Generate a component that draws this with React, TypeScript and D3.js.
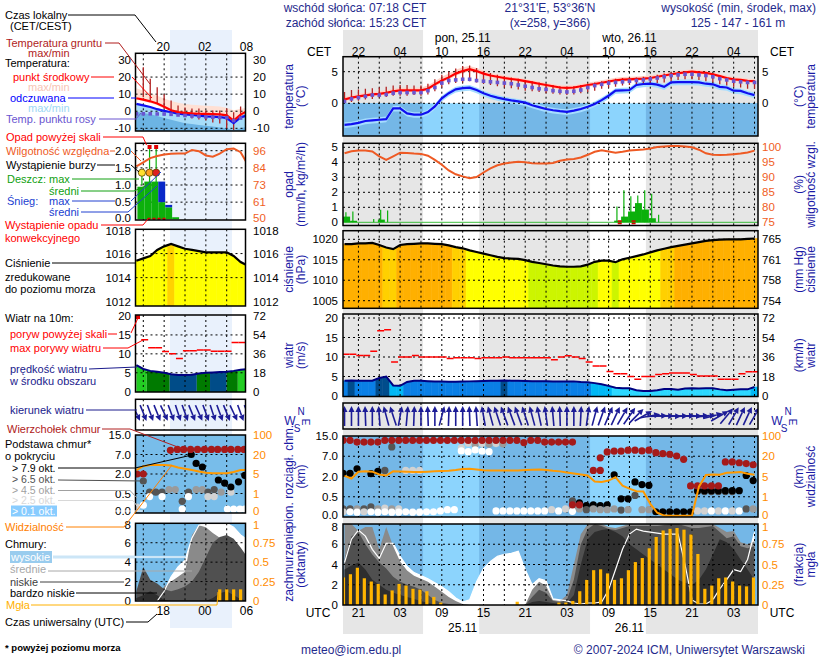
import React from 'react';
import * as d3 from 'd3';

const FONT = '"Liberation Sans", Arial, Helvetica, sans-serif';

// ===== time axis (hours after 24.11 18 UTC) =====
const HOURS = d3.range(1, 61);
const SUN = [12.3, 20.38, 36.33, 44.37];
const GRID_H = d3.range(3, 61, 3);
const TICK_H = [3, 9, 15, 21, 27, 33, 39, 45, 51, 57];
const UTC_LABELS = ['21', '03', '09', '15', '21', '03', '09', '15', '21', '03'];
const CET_LABELS = ['22', '04', '10', '16', '22', '04', '10', '16', '22', '04'];
const DAY_H = [18, 42];
const DAY_CET = ['pon, 25.11', 'wto, 26.11'];
const DAY_UTC = ['25.11', '26.11'];

// ===== main series (hourly) =====
const tempMid = [0.6,0.9,1.1,1.25,1.4,1.5,1.65,1.9,2.05,2.05,2.05,2.05,2.3,3.0,3.6,4.1,4.7,5.1,5.4,5.1,4.7,4.4,4.2,4.0,3.85,3.7,3.5,3.3,3.1,2.9,2.7,2.5,2.45,2.5,2.7,2.9,3.05,3.25,3.45,3.65,3.75,3.8,3.85,3.9,4.0,4.2,4.4,4.6,4.75,4.9,5.0,4.9,4.8,4.6,4.3,4.0,3.8,3.7,3.55,3.5];
const tempMax = [1.0,1.3,1.5,1.65,1.8,1.9,2.05,2.3,2.45,2.45,2.45,2.5,2.8,3.5,4.2,4.7,5.3,5.7,5.9,5.6,5.2,4.8,4.6,4.4,4.2,4.05,3.85,3.65,3.45,3.25,3.05,2.85,2.8,2.85,3.05,3.3,3.45,3.65,3.85,4.05,4.15,4.2,4.25,4.3,4.4,4.6,4.8,5.0,5.1,5.25,5.35,5.25,5.15,4.95,4.65,4.35,4.15,4.05,3.9,3.85];
const tempMin = [0.3,0.6,0.8,0.95,1.1,1.2,1.35,1.6,1.75,1.75,1.75,1.75,2.0,2.65,3.25,3.75,4.35,4.75,5.05,4.8,4.4,4.1,3.9,3.7,3.55,3.4,3.2,3.0,2.8,2.6,2.4,2.2,2.15,2.2,2.4,2.6,2.75,2.95,3.15,3.35,3.45,3.5,3.55,3.6,3.7,3.9,4.1,4.3,4.45,4.6,4.7,4.6,4.5,4.3,4.0,3.7,3.5,3.4,3.25,3.2];
const feelMid = [-3.4,-3.3,-3.1,-2.8,-2.7,-2.6,-2.5,-0.8,-0.8,-1.6,-1.8,-1.8,-1.4,-0.5,0.8,1.6,2.2,2.4,2.47,2.1,1.6,1.2,0.9,0.65,0.45,0.3,0.1,-0.3,-0.6,-0.9,-1.1,-1.25,-1.35,-1.15,-0.9,-0.55,-0.1,0.5,1.2,2.0,2.06,2.1,2.9,3.05,3.1,2.95,2.6,3.3,3.35,3.35,3.35,3.3,3.1,3.0,2.6,2.5,2.0,1.96,1.6,1.3];
const feelMax = [-3.0,-2.9,-2.7,-2.4,-2.3,-2.2,-2.1,-0.4,-0.4,-1.2,-1.4,-1.4,-1.0,-0.1,1.2,2.0,2.6,2.8,2.9,2.5,2.0,1.6,1.3,1.05,0.85,0.7,0.5,0.1,-0.2,-0.5,-0.7,-0.85,-0.95,-0.75,-0.5,-0.15,0.3,0.9,1.6,2.4,2.45,2.5,3.3,3.45,3.5,3.35,3.0,3.7,3.75,3.75,3.75,3.7,3.5,3.4,3.0,2.9,2.4,2.35,2.0,1.7];
const feelMin = [-3.9,-3.8,-3.6,-3.3,-3.2,-3.1,-3.0,-1.3,-1.3,-2.1,-2.3,-2.3,-1.9,-1.0,0.3,1.1,1.7,1.9,2.0,1.6,1.1,0.7,0.4,0.15,-0.05,-0.2,-0.4,-0.8,-1.1,-1.4,-1.6,-1.75,-1.85,-1.65,-1.4,-1.05,-0.6,0.0,0.7,1.5,1.55,1.6,2.4,2.55,2.6,2.45,2.1,2.8,2.85,2.85,2.85,2.8,2.6,2.5,2.1,2.0,1.5,1.45,1.1,0.8];
const dewPoint = [0.3,0.7,0.9,1.1,1.3,1.3,1.4,1.6,1.7,1.7,1.7,1.7,2.0,2.5,3.2,3.6,3.7,3.8,3.8,3.6,3.5,3.4,3.3,3.2,3.1,2.9,2.7,2.5,2.3,2.2,2.0,1.9,1.8,1.9,2.1,2.5,2.8,3.0,3.2,3.3,3.4,3.5,3.6,3.7,3.85,4.0,4.2,4.4,4.5,4.6,4.6,4.5,4.4,4.2,3.9,3.7,3.5,3.4,3.3,3.3];
const groundMax = [1.8,2.1,2.2,2.3,2.4,2.5,2.6,2.8,2.9,2.9,2.8,2.8,3.1,3.8,4.5,5.0,5.5,5.9,6.0,5.6,5.1,4.8,4.5,4.3,4.1,3.9,3.7,3.5,3.3,3.1,2.9,2.7,2.6,2.7,2.9,3.1,3.3,3.5,3.7,3.9,4.0,4.1,4.1,4.2,4.3,4.5,4.7,4.9,5.0,5.1,5.1,5.0,4.9,4.7,4.4,4.1,3.9,3.8,3.7,3.6];
const groundMin = [0.1,0.2,0.4,0.6,0.7,0.9,1.0,1.2,1.2,1.2,1.3,1.2,1.4,1.9,2.5,3.0,3.2,3.3,3.5,3.3,3.1,2.9,2.7,2.5,2.4,2.2,2.0,1.9,1.8,1.6,1.5,1.4,1.3,1.4,1.6,1.8,2.0,2.3,2.5,2.6,2.8,2.9,3.0,3.0,3.1,3.2,3.3,3.5,3.7,3.8,3.8,3.7,3.5,3.3,3.0,2.8,2.6,2.5,2.3,2.3];
const relHum = [98.0,98.7,98.9,98.9,98.6,97.0,95.8,97.0,98.2,98.1,97.9,97.8,97.2,95.8,94.2,92.3,91.0,90.3,89.7,90.1,91.6,93.0,94.0,94.6,94.9,95.2,95.0,94.7,94.6,94.6,94.8,95.5,95.9,96.1,96.6,97.5,98.5,99.0,98.6,98.2,98.5,98.9,99.1,99.3,99.6,100.1,100.3,100.4,100.4,100.3,100.0,99.2,98.0,97.5,97.4,97.5,97.7,97.9,98.3,98.9];
const rainMean = [0.38,0.1,0,0,0,0.18,0,0,0,0,0,0,0,0,0,0,0,0,0,0,0,0,0,0,0,0,0,0,0,0,0,0,0,0,0,0,0,0,0,0.11,0.38,0.72,1.28,0.85,0.27,0,0,0,0,0,0,0,0,0,0,0,0,0,0,0];
const rainMax = [0.67,0.72,0,0,0.22,0.83,0.78,0,0,0,0,0,0,0,0,0,0,0,0,0,0,0,0,0,0,0,0,0,0,0,0,0,0,0,0,0,0,0,0,1.05,2.13,1.73,1.79,2.13,1.9,0.5,0,0,0,0,0,0,0,0,0,0,0,0,0,0];
const convective = [40.6, 42.6];
const pressure = [1018.8,1018.8,1019.0,1019.0,1019.1,1018.6,1018.0,1017.6,1018.6,1018.8,1018.9,1019.0,1019.0,1018.9,1018.8,1018.5,1018.1,1017.8,1017.3,1016.9,1016.5,1016.1,1015.7,1015.4,1015.3,1015.2,1014.9,1014.5,1014.2,1013.9,1013.6,1013.4,1013.3,1013.3,1013.4,1013.8,1014.5,1014.8,1014.8,1014.4,1015.1,1015.5,1015.9,1016.3,1016.8,1017.3,1017.7,1018.1,1018.4,1018.7,1019.0,1019.3,1019.6,1019.8,1019.9,1020.0,1020.0,1020.0,1020.1,1020.2];
const windSpeed = [3.9,4.0,3.9,3.9,3.9,4.6,5.0,2.7,2.6,3.6,3.9,3.9,3.8,3.7,3.7,3.65,3.65,3.7,3.75,3.8,3.85,3.9,3.9,4.0,3.9,3.9,3.85,3.8,3.8,3.8,3.75,3.75,3.75,3.75,3.6,3.5,3.3,3.0,2.6,2.1,2.0,2.0,1.5,1.3,1.3,1.5,1.8,1.8,1.6,1.9,2.0,1.9,2.0,2.0,1.7,1.5,1.6,1.7,1.7,2.3];
const gust = [10.7,10.7,10.4,10.4,11.5,16.7,17.0,8.7,10.0,10.0,10.4,10.0,10.0,10.0,10.0,9.6,9.8,9.8,9.8,9.6,9.8,9.8,9.8,10.0,9.8,9.8,9.8,9.8,9.8,9.8,9.3,10.0,10.3,10.0,9.6,8.7,7.7,7.7,6.3,5.7,5.7,5.0,4.3,5.0,5.0,5.5,5.7,5.9,5.9,5.9,5.5,5.1,5.1,5.1,4.3,4.3,4.3,5.7,6.2,6.2];
const windFrom = [180,180,180,178,180,176,165,162,190,185,182,180,178,180,195,182,180,180,178,176,170,165,162,160,160,160,162,165,168,172,175,178,180,180,183,188,195,200,203,205,210,215,225,240,260,268,270,272,270,268,270,268,265,255,240,220,210,205,205,210];
const visib = [5.5,4.6,8.5,8.8,8.6,6.5,5.75,8.8,8.7,8.5,8.3,8.3,8.5,8.8,9.0,9.3,9.8,10.5,10.75,10.2,9.6,9.5,9.5,9.5,9.5,9.5,9.8,10.0,10.25,9.8,9.2,8.8,8.0,7.2,6.5,5.8,4.0,3.9,4.2,4.86,3.2,2.6,2.1,2.05,0.65,0.21,0.07,0.06,0.06,0.06,0.07,3.0,6.2,6.4,6.3,7.75,8.0,8.25,7.0,6.25];
const cloudHigh = [4.2,6.5,7.4,6.8,5.5,4.6,6.1,6.1,4.8,3.8,3.2,2.9,2.6,2.2,1.8,1.3,0.7,0.3,0.5,2.3,3.6,4.3,4.8,5.0,5.1,5.3,3.5,2.0,2.6,2.4,0.6,0.5,0.4,0.2,0.1,0.2,0.2,0.3,1.5,3.5,5.5,7.0,7.5,7.3,7.2,7.1,7.0,7.0,7.0,4.0,0.5,0.1,0.1,0.5,1.6,2.5,3.5,3.3,4.5,7.2];
const cloudMid = [8,8,7.3,7.7,7.7,5.5,7.7,5.8,4.3,3.4,2.9,2.6,2.3,1.8,1.3,0.8,0.4,0.1,0,0,0,0,0,0,0,0,0,1.5,2.3,1.9,0.5,0.4,1.0,4.0,7.0,8,8,8,7.7,7.6,7.8,8,8,8,8,8,8,8,8,8,8,8,8,8,7.6,7.2,7.3,6.2,6.0,6.3];
const cloudLow = [4.5,6.8,7.2,6.0,5.0,4.2,3.6,2.8,2.3,2.0,1.8,1.5,1.0,0.5,0.2,0.1,0,0,0,0,0,0,0,0,0,0,0,0.8,1.5,1.2,0.4,0.3,0.5,2.5,6.0,7.5,8,7.8,7.5,7.4,7.6,7.8,7.8,7.8,7.8,7.8,7.9,8,8,7.8,7.6,7.6,7.7,7.8,7.2,6.6,6.8,5.8,5.6,5.8];
const cloudVeryLow = [3.5,3.9,4.2,3.5,2.5,2.0,1.5,1.2,1.0,0.8,0.6,0.4,0.2,0,0,0,0,0,0,0,0,0,0,0,0,0,0,0.3,0.4,0.3,0.2,0.1,0.2,1.0,4.0,6.5,7.2,7.4,7.5,7.2,6.8,6.0,5.5,5.0,4.5,4.0,3.5,3.0,2.5,2.2,2.0,2.5,3.5,5.0,6.5,6.2,5.5,4.5,3.5,2.5];
const fog = [0.34,0.38,0.46,0.33,0.29,0.26,0.13,0.18,0.26,0.24,0.20,0.19,0.17,0.10,0.03,0,0,0,0,0,0,0,0,0,0,0.04,0,0,0,0,0,0.03,0.03,0.05,0.17,0.31,0.43,0.44,0.39,0.31,0.33,0.43,0.53,0.58,0.70,0.84,0.92,0.94,0.95,0.93,0.87,0.63,0.20,0.24,0.33,0.34,0.29,0.24,0.23,0.34];
// cloud top [hour, km]
const cloudTop = [[1,13.3],[2,13.3],[3,12.6],[4,12.6],[5,12.6],[6,12.6],[7,13.3],[8,13.3],[9,13.3],[10,13.3],[11,13.3],[12,13.3],[13,13.3],[14,13.3],[15,13.3],[16,13.3],[17,13.3],[18,13.3],[19,13.3],[20,13.3],[21,13.3],[22,13.3],[23,13.3],[24,13.3],[25,13.3],[26,13.3],[27,12.4],[28,13.3],[29,13.3],[30,12.6],[31,12.6],[32,12.6],[33,12.6],[34,12.6],[34,0.3],[35,0.3],[37,3.5],[38,3.5],[38,6.6],[39,8.7],[40,9.0],[41,9.0],[42,9.4],[43,9.4],[44,9.1],[45,9.4],[46,8.4],[47,8.0],[48,7.8],[49,7.1],[50,6.25],[51,1.3],[52,1.3],[53,1.3],[54,1.3],[55,1.3],[56,5.6],[57,5.6],[58,5.4],[59,5.2],[60,4.9]];
// cloud base [hour, km, class] class: 0 >7.9, 1 >6.5, 2 >4.5, 3 >2.5, 4 >0.1 okt
const cloudBase = [[1,2.8,0],[1,0.2,1],[1,0.13,3],[2,2.8,0],[2,0.2,1],[2,0.13,4],[3,3.9,0],[3,0.2,2],[3,0.12,4],[4,0.2,1],[4,0.13,3],[5,2.7,0],[5,0.25,1],[5,0.13,4],[6,3.25,0],[6,0.2,2],[6,0.12,4],[7,3.5,1],[7,0.22,3],[7,0.13,4],[8,10.7,1],[8,0.2,2],[8,0.12,4],[9,0.2,3],[9,0.12,4],[10,3.5,3],[10,0.13,4],[11,3.5,3],[11,0.12,4],[12,3.5,3],[12,0.12,4],[13,0.13,4],[14,0.13,4],[15,0.15,4],[16,0.18,4],[17,0.18,4],[18,10.3,3],[18,9.1,4],[19,12.2,3],[19,8.8,4],[20,11.5,2],[20,9.5,4],[21,12.0,3],[21,9.0,4],[22,11.8,2],[22,8.8,4],[23,12.0,3],[24,11.9,2],[23,0.15,4],[24,0.15,4],[25,0.15,4],[26,0.15,4],[27,0.15,4],[28,0.15,4],[29,0.15,4],[30,0.15,4],[31,0.18,3],[32,0.15,4],[33,0.2,3],[34,0.4,1],[34,0.2,2],[34,0.14,4],[35,0.35,0],[35,0.2,2],[36,0.28,0],[36,0.18,1],[37,0.3,0],[37,0.2,2],[38,0.28,0],[38,0.18,2],[39,0.3,0],[39,0.18,2],[40,2.4,0],[40,0.2,2],[41,0.45,0],[41,0.17,1],[42,0.45,0],[42,0.18,2],[43,1.6,0],[43,0.6,1],[44,1.4,0],[44,0.18,2],[45,1.35,0],[45,0.18,2],[46,0.13,0],[47,0.13,0],[48,0.13,0],[49,0.13,0],[50,0.13,0],[51,0.13,0],[52,0.9,1],[52,0.95,0],[52,0.15,3],[53,0.88,1],[53,0.95,0],[53,0.15,3],[54,0.88,1],[54,0.95,0],[54,0.15,4],[55,0.88,1],[55,0.95,0],[55,0.15,3],[56,0.88,1],[56,0.95,0],[56,0.15,4],[57,0.88,1],[57,0.95,0],[57,0.15,3],[58,0.95,0],[58,0.15,4],[59,2.25,0],[59,0.2,1],[60,1.7,0],[60,0.2,2]];

// ===== legend sample (left mini chart), hours of day UTC =====
const LH = d3.range(14, 31);
const LGH = d3.range(15, 30);
const legTemp = [7.6,6.8,5.8,4.5,2.6,0.6,-0.5,-1.0,-1.3,-1.5,-1.6,-1.7,-1.8,-2.4,-5.5,-2.0,0.2];
const legTempMax = [13.5,12.0,10.5,9.0,7.5,6.0,5.0,4.3,3.8,3.5,3.2,3.0,2.7,2.0,0.5,1.5,2.0];
const legTempMin = [6.6,5.8,4.8,3.5,1.6,-0.4,-1.5,-2.0,-2.3,-2.5,-2.6,-2.7,-2.8,-3.4,-6.5,-3.0,-0.8];
const legFeel = [4.3,3.4,2.5,1.2,0.2,-0.6,-1.4,-1.8,-2.2,-2.6,-3.0,-3.2,-3.4,-4.0,-7.0,-3.6,-2.5];
const legFeelMin = [-0.5,-1.0,-1.8,-2.8,-4.0,-5.0,-6.0,-7.0,-7.5,-8.0,-8.5,-9.0,-9.5,-10.0,-11.0,-10.0,-9.0];
const legDew = [-1.5,-1.5,-1.5,-1.6,-1.6,-1.8,-2.2,-2.5,-2.8,-3.0,-3.3,-3.5,-3.6,-3.8,-5.5,-4.0,-3.0];
const legGroundMax = [25.8,19,14,10,6.3,3.4,2.2,1.6,1.6,0.4,0.4,0.4,1.6,-0.6,2.7];
const legGroundMin = [8.2,6.3,4.5,1.6,0,-0.8,-3.0,-4.2,-4.8,-5.4,-6.6,-7.2,-10,-11,-4.3];
const legRH = [85.5,88.2,91,92.4,93.5,94,94.1,94.1,96.5,95.7,92.8,92,94,97,97.5,95,87];
const legRainH = [14, 15, 16, 17, 18, 19];
const legRain = [0.95, 1.1, 1.1, 0.5, 0.35, 0.06];
const legSnow = [0, 0, 0, 0.6, 0.07, 0];
const legStormH = [14.8, 15.9, 16.85];
const legStormColor = ['#ffe030', '#ffa020', '#e02020'];
const legPres = [1015.4,1015.6,1015.8,1016.3,1016.6,1016.8,1016.6,1016.4,1016.3,1016.2,1016.1,1016.1,1016.1,1016.1,1015.8,1015.3,1015.0];
const legWind = [7.0,6.0,5.5,5.3,5.0,4.6,4.4,4.4,4.5,4.8,5.0,5.1,5.2,5.3,5.5,5.8,6.0];
const legWindBands = [[13.5,15.5,0],[15.5,18.8,1],[18.8,22.7,2],[22.7,24.6,1],[24.6,27,2],[27,28.6,1],[28.6,30,0]];
const legGust = [13.7,11.6,11.6,10.6,10.0,8.8,10.8,10.8,11.0,11.0,10.7,10.7,10.7,13.0,13.0];
const legDir = [335,338,340,338,335,340,342,340,338,336,340,342,340,338,335,340,338];
const legVis = [8,11,12,12,12,11.5,10,9,8,7,6,5.5,5.5,5.5,6.5,8,8];
const legTop = [[14.1,2.0],[15.0,2.0],[18.9,8.7],[19.9,9.1],[20.8,9.1],[21.8,9.1],[22.8,9.1],[23.8,9.1],[24.8,9.1],[25.7,9.1],[26.7,9.1],[27.6,9.1],[28.6,9.1],[29.5,9.1]];
const legBase = [[14.1,0.15,3],[15.0,1.46,1],[15.0,0.2,4],[15.9,0.6,1],[15.9,0.42,4],[16.8,0.6,1],[17.7,0.6,1],[17.7,0.42,4],[18.7,0.8,2],[19.6,0.8,2],[20.6,0.3,1],[20.6,0.1,4],[21.5,0.6,1],[21.5,0.42,4],[21.9,7.0,0],[22.6,0.8,2],[22.6,4.7,0],[23.5,0.8,2],[23.5,3.8,0],[24.3,0.6,1],[24.3,0.42,3],[25.2,0.8,1],[25.2,0.42,3],[26.2,0.6,2],[25.8,1.54,0],[26.7,1.3,0],[27.1,0.1,4],[27.6,0.6,3],[27.6,1.0,0],[28.0,0.1,4],[28.7,1.4,0],[28.9,0.1,4],[29.6,1.9,0],[29.6,0.1,4]];
const legCovHigh = [0,0,0,0,1.0,2.5,3.5,4.2,6.5,7.8,8,8,8,8,7.6,6.8,6.3];
const legCovMid = [0,0,0,0.5,1.5,2.0,2.5,3.0,6.8,7.8,7.6,7.0,6.5,5.5,4.5,4.0,3.8];
const legCovLow = [1.0,3.5,2.2,1.8,1.2,1.0,1.2,1.5,2.0,3.0,4.5,6.0,6.6,6.8,6.4,5.5,4.5];
const legCovVeryLow = [0.3,0.6,1.0,0.6,0.1,0,0,0,0,0,0,0.3,0.8,1.0,0.6,0.2,0];
const legFogH = [26, 27, 28, 29];
const legFog = [0.15, 0.15, 0.15, 0.15];

const BASE_COL = ['#000000', '#555555', '#9a9a9a', '#d2d2d2', '#ffffff'];

export default function App() {
  const X0 = 343, X1 = 758;
  const x = d3.scaleLinear().domain([0.78, 60.5]).range([X0, X1]);
  const LX0 = 135.5, LX1 = 245.5;
  const lx = d3.scaleLinear().domain([15, 27]).range([143.3, 226.7]);
  const M: any = { temp: [56.7, 136], prec: [143.3, 225.5], pres: [230.7, 308.3], wind: [314, 396.5], dir: [403, 429], cloud: [436, 517], cover: [524, 605] };
  const L: any = { temp: [53.3, 131], prec: [143.3, 220], pres: [229.3, 306], wind: [315, 392], dir: [399.3, 430], cloud: [435, 513], cover: [523.3, 601] };

  const yT = d3.scaleLinear().domain([0, 5]).range([103.3, 71.7]);
  const yP = d3.scaleLinear().domain([0, 5]).range([222.3, 147.3]);
  const yRH = d3.scaleLinear().domain([75, 100]).range([222.3, 147.3]);
  const yPr = d3.scaleLinear().domain([1005, 1020]).range([300.7, 239.3]);
  const yW = d3.scaleLinear().domain([0, 20]).range([396, 318]);
  const cq = (M.cloud[1] - M.cloud[0]) / 4;
  const cRange = [M.cloud[1], M.cloud[1] - cq, M.cloud[1] - 2 * cq, M.cloud[1] - 3 * cq, M.cloud[0]];
  const yC = d3.scaleLinear().domain([0, 0.5, 2, 7, 15]).range(cRange);
  const yV = d3.scaleLinear().domain([0, 1, 5, 20, 100]).range(cRange);
  const yCov = d3.scaleLinear().domain([0, 8]).range([M.cover[1], M.cover[0]]);
  const yFog = d3.scaleLinear().domain([0, 1]).range([M.cover[1], M.cover[0]]);

  const lyT = d3.scaleLinear().domain([-10, 30]).range([128.3, 60]);
  const lyP = d3.scaleLinear().domain([0, 2]).range([219.3, 150.7]);
  const lyRH = d3.scaleLinear().domain([50, 96]).range([219.3, 150.7]);
  const lyPr = d3.scaleLinear().domain([1012, 1018]).range([301.7, 229.5]);
  const lyW = d3.scaleLinear().domain([0, 20]).range([391.7, 316]);
  const lcRange = [513, 493.5, 474, 454.5, 435];
  const lyC = d3.scaleLinear().domain([0, 0.5, 2, 7, 15]).range(lcRange);
  const lyV = d3.scaleLinear().domain([0, 1, 5, 20, 100]).range(lcRange);
  const lyCov = d3.scaleLinear().domain([0, 8]).range([601, 523.3]);
  const lyFog = d3.scaleLinear().domain([0, 1]).range([601, 523.3]);

  const nights = [[0, SUN[0]], [SUN[1], SUN[2]], [SUN[3], 62]];
  const hx = HOURS.map((h) => x(h));
  const lhx = LH.map((h) => lx(h));

  const line = (xs: number[], vs: number[], ys: any) =>
    d3.line<number>().x((_, i) => xs[i]).y((v) => ys(v))(vs) as string;
  const band = (xs: number[], hi: number[], lo: number[], ys: any) =>
    d3.area<number>().x((_, i) => xs[i]).y0((_, i) => ys(lo[i])).y1((v) => ys(v))(hi) as string;
  const areaDown = (xs: number[], vs: number[], ys: any, bottom: number) =>
    d3.area<number>().x((_, i) => xs[i]).y0(bottom).y1((v) => ys(v))(vs) as string;

  const columns = (hs: number[], vs: number[], xs: any, ys: any, bottom: number, color: any, key: string) =>
    hs.map((h, i) => {
      const pv = i > 0 ? (vs[i - 1] + vs[i]) / 2 : vs[i];
      const nv = i < vs.length - 1 ? (vs[i] + vs[i + 1]) / 2 : vs[i];
      const pts = [[xs(h - 0.5), ys(pv)], [xs(h), ys(vs[i])], [xs(h + 0.5), ys(nv)], [xs(h + 0.5), bottom], [xs(h - 0.5), bottom]];
      const c = color(vs[i]);
      return <polygon key={key + i} points={pts.map((p) => p.join(',')).join(' ')} fill={c} stroke={c} strokeWidth={0.6} />;
    });

  const vgrid = (xs: number[], y0: number, y1: number, key: string) =>
    xs.map((xx, i) => <line key={key + i} x1={xx} x2={xx} y1={y0} y2={y1} stroke="#000" strokeWidth={1} strokeDasharray="2,3" />);
  const hgrid = (ys: number[], x0: number, x1: number, key: string) =>
    ys.map((yy, i) => <line key={key + i} x1={x0} x2={x1} y1={yy} y2={yy} stroke="#000" strokeWidth={1} strokeDasharray="2,3" />);
  const frame = (x0: number, x1: number, p: number[], key: string) =>
    <rect key={key} x={x0} y={p[0]} width={x1 - x0} height={p[1] - p[0]} fill="none" stroke="#000" strokeWidth={1.5} />;

  const arrow = (cx: number, cy: number, from: number, len: number, color: string, key: string) => {
    const to = ((from + 180) * Math.PI) / 180;
    const dx = Math.sin(to), dy = -Math.cos(to);
    const x1 = cx - (dx * len) / 2, y1 = cy - (dy * len) / 2;
    const x2 = cx + (dx * len) / 2, y2 = cy + (dy * len) / 2;
    const hl = 6, hw = 3;
    const bx = x2 - dx * hl, by = y2 - dy * hl;
    const p1 = [bx - dy * hw, by + dx * hw], p2 = [bx + dy * hw, by - dx * hw];
    return (
      <g key={key}>
        <line x1={x1} y1={y1} x2={bx} y2={by} stroke={color} strokeWidth={1.6} />
        <polygon points={`${x2},${y2} ${p1[0]},${p1[1]} ${p2[0]},${p2[1]}`} fill={color} />
      </g>
    );
  };

  const presColor = d3.scaleThreshold<number, string>().domain([1014.6, 1017.6, 1018.3]).range(['#ccf500', '#ffff00', '#ffd000', '#ffb000']);
  const windColor = d3.scaleThreshold<number, string>().domain([2.3, 3.4, 4.0]).range(['#2cd8ff', '#00b8f5', '#0a7fe6', '#004c8c']);
  const legPresColor = d3.scaleThreshold<number, string>().domain([1016.7]).range(['#ffff00', '#ffd200']);
  const LEG_WIND_COL = ['#22cc22', '#007a00', '#004c88'];

  const SKY_N = '#74b7e7', SKY_D = '#8cd4fd';
  const TITLE = '#1a1aa6';
  const HEAD = '#1f2a8c';
  const ORANGE = '#ff8c00';
  const FS = 11;
  const TFS = 11.5;

  const panelKeys = Object.keys(M);

  const sky = (p: number[], y0: number, key: string) => (
    <g key={key}>
      <rect x={X0} y={y0} width={X1 - X0} height={p[1] - y0} fill={SKY_D} />
      {nights.map(([a, b], i) => (
        <rect key={i} x={x(a)} y={y0} width={x(b) - x(a)} height={p[1] - y0} fill={SKY_N} />
      ))}
    </g>
  );

  const rtitle = (cx: number, cy: number, s: string, key: string, color = TITLE) => (
    <text key={key} transform={`translate(${cx},${cy}) rotate(-90)`} textAnchor="middle" dominantBaseline="central" fontSize={12} fill={color}>{s}</text>
  );
  const ltick = (xx: number, yy: number, s: string, key: string, color = '#000', anchor = 'end') => (
    <text key={key} x={xx} y={yy} textAnchor={anchor as any} dominantBaseline="central" fontSize={TFS} fill={color}>{s}</text>
  );
  // small nudge for labels sitting on touching panel edges
  const nudge = (v: number, lo: number, hi: number, d: number) => (v === lo ? -d : v === hi ? d : 0);

  const mid = (p: number[]) => (p[0] + p[1]) / 2;
  const t = (xx: number, yy: number, s: string, color = '#000', size = FS) => (
    <text x={xx} y={yy} fontSize={size} fill={color}>{s}</text>
  );
  const pl = (pts: number[][], color: string, w = 1) => (
    <polyline points={pts.map((p) => p.join(',')).join(' ')} fill="none" stroke={color} strokeWidth={w} />
  );

  return (
    <svg width={820} height={660} style={{ position: 'absolute', left: 0, top: 0, background: '#fff' }} fontFamily={FONT}>
      <defs>
        {panelKeys.map((k) => (
          <clipPath id={'cm' + k} key={k}><rect x={X0} y={M[k][0]} width={X1 - X0} height={M[k][1] - M[k][0]} /></clipPath>
        ))}
        {panelKeys.map((k) => (
          <clipPath id={'cl' + k} key={k}><rect x={LX0} y={L[k][0]} width={LX1 - LX0} height={L[k][1] - L[k][0]} /></clipPath>
        ))}
      </defs>
      <rect x={0} y={0} width={820} height={660} fill="#fff" />

      {nights.map(([a, b], i) => (
        <rect key={'nb' + i} x={Math.max(X0, x(a))} y={30} width={Math.min(X1, x(b)) - Math.max(X0, x(a))} height={604} fill="#e6e6e6" />
      ))}
      <rect x={170} y={30} width={62} height={598} fill="#e9f1fc" />

      {/* ===== header ===== */}
      <text x={355} y={12} textAnchor="middle" fontSize={12} fill={HEAD}>wschód słońca: 07:18 CET</text>
      <text x={356} y={26.5} textAnchor="middle" fontSize={12} fill={HEAD}>zachód słońca: 15:23 CET</text>
      <text x={550} y={12} textAnchor="middle" fontSize={12} fill={HEAD}>21°31'E, 53°36'N</text>
      <text x={550} y={26.5} textAnchor="middle" fontSize={12} fill={HEAD}>(x=258,  y=366)</text>
      <text x={816} y={12} textAnchor="end" fontSize={12} fill={HEAD}>wysokość (min, środek, max)</text>
      <text x={738} y={26.5} textAnchor="middle" fontSize={12} fill={HEAD}>125 - 147 - 161 m</text>
      {DAY_H.map((h, i) => <text key={'dc' + i} x={x(h)} y={41.5} textAnchor="middle" fontSize={12}>{DAY_CET[i]}</text>)}
      <text x={319} y={56} textAnchor="middle" fontSize={12}>CET</text>
      <text x={782} y={56} textAnchor="middle" fontSize={12}>CET</text>
      {TICK_H.map((h, i) => <text key={'ct' + i} x={x(h)} y={56} textAnchor="middle" fontSize={12}>{CET_LABELS[i]}</text>)}

      {/* ===== MAIN: temperature ===== */}
      <g clipPath="url(#cmtemp)">
        {sky(M.temp, yT(0), 'skyT')}
        <path d={band(hx, tempMax, tempMin, yT)} fill="#ffd3c8" />
        <path d={band(hx, feelMax, feelMin, yT)} fill="#a6ddff" />
        {vgrid(GRID_H.map((h) => x(h)), M.temp[0], M.temp[1], 'gvT')}
        {hgrid([yT(0), yT(5)], X0, X1, 'ghT')}
        {HOURS.map((h, i) => <line key={'gb' + i} x1={x(h)} x2={x(h)} y1={yT(groundMax[i])} y2={yT(groundMin[i])} stroke="#b22222" strokeWidth={1.3} />)}
        <path d={line(hx, feelMid, yT)} fill="none" stroke="#1010f0" strokeWidth={2.2} />
        <path d={line(hx, tempMid, yT)} fill="none" stroke="#ff0000" strokeWidth={2.2} />
        {HOURS.map((h, i) => <rect key={'dp' + i} x={x(h) - 1.8} y={yT(dewPoint[i]) - 1.8} width={3.6} height={3.6} fill="#6a55d0" />)}
      </g>
      {frame(X0, X1, M.temp, 'fT')}
      {[0, 5].map((v) => ltick(338, yT(v), String(v), 'tl' + v))}
      {[0, 5].map((v) => ltick(762, yT(v), String(v), 'tr' + v, '#000', 'start'))}
      {rtitle(289, mid(M.temp), 'temperatura', 'a1')}
      {rtitle(301, mid(M.temp), '(°C)', 'a2')}
      {rtitle(799, mid(M.temp), '(°C)', 'a3')}
      {rtitle(811, mid(M.temp), 'temperatura', 'a4')}

      {/* ===== MAIN: precipitation ===== */}
      <g clipPath="url(#cmprec)">
        {vgrid(GRID_H.map((h) => x(h)), M.prec[0], M.prec[1], 'gvP')}
        {hgrid([1, 2, 3, 4, 5].map((v) => yP(v)), X0, X1, 'ghP')}
        {HOURS.map((h, i) => rainMean[i] > 0 ? <rect key={'rm' + i} x={x(h - 0.2)} y={yP(rainMean[i])} width={x(h + 0.8) - x(h - 0.2)} height={yP(0) - yP(rainMean[i])} fill="#0cb00c" /> : null)}
        {HOURS.map((h, i) => rainMax[i] > 0 ? <line key={'rx' + i} x1={x(h + 0.2)} x2={x(h + 0.2)} y1={yP(0)} y2={yP(rainMax[i])} stroke="#0cb00c" strokeWidth={1.2} /> : null)}
        {convective.map((h, i) => <rect key={'cv' + i} x={x(h) - 2} y={yP(0) - 2} width={4} height={4} fill="#e00000" />)}
        <line x1={X0} x2={X1} y1={yP(0)} y2={yP(0)} stroke="#0cb00c" strokeWidth={0.8} />
        <path d={line(hx, relHum, yRH)} fill="none" stroke="#ee5a24" strokeWidth={2} />
      </g>
      {frame(X0, X1, M.prec, 'fP')}
      {[0, 1, 2, 3, 4, 5].map((v) => ltick(338, yP(v), String(v), 'pl' + v))}
      {[75, 80, 85, 90, 95, 100].map((v) => ltick(762, yRH(v), String(v), 'pr' + v, '#f0601e', 'start'))}
      {rtitle(289, mid(M.prec), 'opad', 'b1')}
      {rtitle(301, mid(M.prec), '(mm/h, kg/m²/h)', 'b2')}
      {rtitle(799, mid(M.prec), '(%)', 'b3')}
      {rtitle(811, mid(M.prec), 'wilgotność wzgl.', 'b4')}

      {/* ===== MAIN: pressure ===== */}
      <g clipPath="url(#cmpres)">
        {columns(HOURS, pressure, x, yPr, M.pres[1], presColor, 'pc')}
        {vgrid(GRID_H.map((h) => x(h)), M.pres[0], M.pres[1], 'gvR')}
        {hgrid([1005, 1010, 1015, 1020].map((v) => yPr(v)), X0, X1, 'ghR')}
        <path d={line(hx, pressure, yPr)} fill="none" stroke="#000" strokeWidth={2.2} />
      </g>
      {frame(X0, X1, M.pres, 'fR')}
      {[1005, 1010, 1015, 1020].map((v) => ltick(338, yPr(v), String(v), 'rl' + v))}
      {[['754', 1005], ['758', 1010], ['761', 1015], ['765', 1020]].map(([s, v]) => ltick(762, yPr(v as number), s as string, 'rr' + s, '#000', 'start'))}
      {rtitle(289, mid(M.pres), 'ciśnienie', 'c1')}
      {rtitle(301, mid(M.pres), '(hPa)', 'c2')}
      {rtitle(799, mid(M.pres), '(mm Hg)', 'c3')}
      {rtitle(811, mid(M.pres), 'ciśnienie', 'c4')}

      {/* ===== MAIN: wind ===== */}
      <g clipPath="url(#cmwind)">
        {columns(HOURS, windSpeed, x, yW, M.wind[1], windColor, 'wc')}
        {vgrid(GRID_H.map((h) => x(h)), M.wind[0], M.wind[1], 'gvW')}
        {hgrid([5, 10, 15, 20].map((v) => yW(v)), X0, X1, 'ghW')}
        <path d={line(hx, windSpeed, yW)} fill="none" stroke="#000080" strokeWidth={2} />
        {HOURS.map((h, i) => <line key={'gu' + i} x1={x(h - 0.3)} x2={x(h + 0.7)} y1={yW(gust[i])} y2={yW(gust[i])} stroke="#ff0000" strokeWidth={1.5} />)}
      </g>
      {frame(X0, X1, M.wind, 'fW')}
      {[0, 5, 10, 15, 20].map((v) => ltick(338, yW(v), String(v), 'wl' + v))}
      {[0, 5, 10, 15, 20].map((v) => ltick(762, yW(v), String(Math.round(v * 3.6)), 'wr' + v, '#000', 'start'))}
      {rtitle(289, mid(M.wind), 'wiatr', 'd1')}
      {rtitle(301, mid(M.wind), '(m/s)', 'd2')}
      {rtitle(799, mid(M.wind), '(km/h)', 'd3')}
      {rtitle(811, mid(M.wind), 'wiatr', 'd4')}

      {/* ===== MAIN: wind direction ===== */}
      <g clipPath="url(#cmdir)">
        {vgrid(GRID_H.map((h) => x(h)), M.dir[0], M.dir[1], 'gvD')}
        {HOURS.map((h, i) => arrow(x(h), mid(M.dir), windFrom[i], 20, '#1c1c96', 'ar' + i))}
      </g>
      {frame(X0, X1, M.dir, 'fD')}
      {[0, 487].map((o, i) => (
        <g key={'cmp' + i} fill={TITLE}>
          <text x={290 + o} y={421} fontSize={12} textAnchor="middle" dominantBaseline="central">W</text>
          <text x={301 + o} y={411} fontSize={10} textAnchor="middle" dominantBaseline="central">N</text>
          <text x={297 + o} y={428} fontSize={10} textAnchor="middle" dominantBaseline="central">S</text>
          <text transform={`translate(${305 + o},422) rotate(90)`} fontSize={10} textAnchor="middle" dominantBaseline="central">E</text>
        </g>
      ))}

      {/* ===== MAIN: cloud base/top & visibility ===== */}
      <g clipPath="url(#cmcloud)">
        {sky(M.cloud, M.cloud[0], 'skyC')}
        {vgrid(GRID_H.map((h) => x(h)), M.cloud[0], M.cloud[1], 'gvC')}
        {hgrid([0.5, 2, 7].map((v) => yC(v)), X0, X1, 'ghC')}
        {cloudBase.map((d, i) => <circle key={'cb' + i} cx={x(d[0] - 0.2)} cy={yC(d[1])} r={3.6} fill={BASE_COL[d[2]]} />)}
        {cloudTop.map((d, i) => <circle key={'ct' + i} cx={x(d[0] - 0.2)} cy={yC(d[1])} r={3.6} fill="#a51a1a" />)}
        <path d={line(hx, visib, yV)} fill="none" stroke="#ff9900" strokeWidth={2} />
      </g>
      {frame(X0, X1, M.cloud, 'fC')}
      {[[0, '0.0'], [0.5, '0.5'], [2, '2.0'], [7, '7.0'], [15, '15.0']].map(([v, s]) => ltick(338, yC(v as number) + nudge(v as number, 0, -1, 2.5), s as string, 'cl' + s))}
      {[0, 1, 5, 20, 100].map((v) => ltick(762, yV(v) + nudge(v, 0, -1, 2.5), String(v), 'cr' + v, ORANGE, 'start'))}
      {rtitle(289, mid(M.cloud), 'pion. rozciągł. chm.', 'e1')}
      {rtitle(301, mid(M.cloud), '(km)', 'e2')}
      {rtitle(799, mid(M.cloud), '(km)', 'e3')}
      {rtitle(811, mid(M.cloud), 'widzialność', 'e4')}

      {/* ===== MAIN: cloud cover & fog ===== */}
      <g clipPath="url(#cmcover)">
        {sky(M.cover, M.cover[0], 'skyV')}
        <path d={areaDown(hx, cloudHigh, yCov, M.cover[1])} fill="#ffffff" />
        <path d={areaDown(hx, cloudMid, yCov, M.cover[1])} fill="#8a8a8a" />
        <path d={areaDown(hx, cloudLow, yCov, M.cover[1])} fill="#505050" />
        <path d={areaDown(hx, cloudVeryLow, yCov, M.cover[1])} fill="#2e2e2e" />
        <path d={line(hx, cloudHigh, yCov)} fill="none" stroke="#ffffff" strokeWidth={1.2} />
        {vgrid(GRID_H.map((h) => x(h)), M.cover[0], M.cover[1], 'gvV')}
        {hgrid([2, 4, 6].map((v) => yCov(v)), X0, X1, 'ghV')}
        {HOURS.map((h, i) => fog[i] > 0 ? <rect key={'fg' + i} x={x(h - 0.15) - 1.6} y={yFog(fog[i])} width={3.2} height={yFog(0) - yFog(fog[i])} fill="#ffb400" /> : null)}
      </g>
      {frame(X0, X1, M.cover, 'fV')}
      {[0, 2, 4, 6, 8].map((v) => ltick(338, yCov(v) + nudge(v, -1, 8, 2.5), String(v), 'vl' + v))}
      {[[0, '0'], [0.25, '0.25'], [0.5, '0.5'], [0.75, '0.75'], [1, '1']].map(([v, s]) => ltick(762, yFog(v as number) + nudge(v as number, -1, 1, 2.5), s as string, 'vr' + s, ORANGE, 'start'))}
      {rtitle(289, mid(M.cover), 'zachmurzenie', 'f1')}
      {rtitle(301, mid(M.cover), '(oktanty)', 'f2')}
      {rtitle(799, mid(M.cover), '(frakcja)', 'f3')}
      {rtitle(811, mid(M.cover), 'mgła', 'f4')}

      {/* bottom time axis */}
      <text x={318} y={616.5} textAnchor="middle" fontSize={12}>UTC</text>
      <text x={782} y={616.5} textAnchor="middle" fontSize={12}>UTC</text>
      {TICK_H.map((h, i) => <text key={'ut' + i} x={x(h)} y={616.5} textAnchor="middle" fontSize={12}>{UTC_LABELS[i]}</text>)}
      {DAY_H.map((h, i) => <text key={'du' + i} x={x(h)} y={631.5} textAnchor="middle" fontSize={12}>{DAY_UTC[i]}</text>)}

      {/* footer */}
      <text x={301} y={654} fontSize={12} fill={HEAD}>meteo@icm.edu.pl</text>
      <text x={805} y={654} textAnchor="end" fontSize={12} fill={HEAD}>© 2007-2024 ICM, Uniwersytet Warszawski</text>

      {/* ============ LEFT LEGEND CHART ============ */}
      <g clipPath="url(#cltemp)">
        <rect x={LX0} y={lyT(0)} width={LX1 - LX0} height={L.temp[1] - lyT(0)} fill="#6cb4e4" />
        <path d={band(lhx, legTempMax, legTempMin, lyT)} fill="#ffe0d4" />
        <path d={band(lhx, legFeel, legFeelMin, lyT)} fill="#a6dcf8" />
        {vgrid([15, 18, 21, 24, 27].map((h) => lx(h)), L.temp[0], L.temp[1], 'lgvT')}
        {hgrid([20, 10, 0, -10].map((v) => lyT(v)), LX0, LX1, 'lghT')}
        {LGH.map((h, i) => <line key={'lgb' + i} x1={lx(h)} x2={lx(h)} y1={lyT(legGroundMax[i])} y2={lyT(legGroundMin[i])} stroke="#b22222" strokeWidth={1.3} />)}
        <path d={line(lhx, legFeel, lyT)} fill="none" stroke="#1010f0" strokeWidth={2.2} />
        <path d={line(lhx, legTemp, lyT)} fill="none" stroke="#ff0000" strokeWidth={2.2} />
        {LH.map((h, i) => <rect key={'ldp' + i} x={lx(h) - 1.8} y={lyT(legDew[i]) - 1.8} width={3.6} height={3.6} fill="#6a55d0" />)}
      </g>
      {frame(LX0, LX1, L.temp, 'lfT')}
      {[30, 20, 10, 0, -10].map((v) => ltick(131, lyT(v), String(v), 'ltl' + v))}
      {[30, 20, 10, 0, -10].map((v) => ltick(253, lyT(v), String(v), 'ltr' + v, '#000', 'start'))}
      {[['20', 18], ['02', 24], ['08', 30]].map(([s, h]) => <text key={'lct' + s} x={lx(h as number) - 1} y={51} textAnchor="middle" fontSize={12}>{s}</text>)}

      <g clipPath="url(#clprec)">
        {vgrid([15, 18, 21, 24, 27].map((h) => lx(h)), L.prec[0], L.prec[1], 'lgvP')}
        {hgrid([0.5, 1, 1.5, 2].map((v) => lyP(v)), LX0, LX1, 'lghP')}
        {legRainH.map((h, i) => <rect key={'lr' + i} x={lx(h + 0.15)} y={lyP(legRain[i])} width={lx(h + 1.15) - lx(h + 0.15)} height={lyP(0) - lyP(legRain[i])} fill="#0cb00c" />)}
        {legRainH.map((h, i) => legSnow[i] > 0 ? <rect key={'ls' + i} x={lx(h + 0.15)} y={lyP(legRain[i] + legSnow[i])} width={lx(h + 1.15) - lx(h + 0.15)} height={lyP(0) - lyP(legSnow[i])} fill="#0a28c8" /> : null)}
        <line x1={lx(14.8)} x2={lx(14.8)} y1={lyP(1)} y2={172.7} stroke="#0cb00c" strokeWidth={1.2} />
        <line x1={lx(15.9)} x2={lx(15.9)} y1={lyP(1)} y2={147} stroke="#0cb00c" strokeWidth={1.2} />
        <line x1={lx(16.85)} x2={lx(16.85)} y1={lyP(1)} y2={147} stroke="#0cb00c" strokeWidth={1.2} />
        {legStormH.map((h, i) => <circle key={'lst' + i} cx={lx(h)} cy={172.7} r={3.6} fill={legStormColor[i]} stroke="#604000" strokeWidth={0.8} />)}
        {[15.9, 16.85].map((h, i) => <rect key={'lab' + i} x={lx(h) - 2} y={145} width={4} height={4} fill="#e00000" />)}
        <line x1={lx(15.6)} x2={lx(18.2)} y1={218.8} y2={218.8} stroke="#e00000" strokeWidth={2} strokeDasharray="3,2" />
        <path d={line(lhx, legRH, lyRH)} fill="none" stroke="#ee5a24" strokeWidth={2} />
      </g>
      {frame(LX0, LX1, L.prec, 'lfP')}
      {[[2, '2.0'], [1.5, '1.5'], [1, '1.0'], [0.5, '0.5'], [0, '0.0']].map(([v, s]) => ltick(131, lyP(v as number) + (v === 0 ? -1.5 : 0), s as string, 'lpl' + s))}
      {[[2, '96'], [1.5, '84'], [1, '73'], [0.5, '61'], [0, '50']].map(([v, s]) => ltick(253, lyP(v as number) + (v === 0 ? -1.5 : 0), s as string, 'lpr' + s, '#f0601e', 'start'))}

      <g clipPath="url(#clpres)">
        {columns(LH, legPres, lx, lyPr, L.pres[1], legPresColor, 'lpc')}
        {vgrid([15, 18, 21, 24, 27].map((h) => lx(h)), L.pres[0], L.pres[1], 'lgvR')}
        {hgrid([1014, 1016].map((v) => lyPr(v)), LX0, LX1, 'lghR')}
        <path d={line(lhx, legPres, lyPr)} fill="none" stroke="#000" strokeWidth={2.2} />
      </g>
      {frame(LX0, LX1, L.pres, 'lfR')}
      {[1018, 1016, 1014, 1012].map((v) => ltick(131, lyPr(v) + (v === 1018 ? 1.5 : 0), String(v), 'lrl' + v))}
      {[1018, 1016, 1014, 1012].map((v) => ltick(253, lyPr(v) + (v === 1018 ? 1.5 : 0), String(v), 'lrr' + v, '#000', 'start'))}

      <g clipPath="url(#clwind)">
        <clipPath id="lwArea"><path d={areaDown(lhx, legWind, lyW, L.wind[1])} /></clipPath>
        <g clipPath="url(#lwArea)">
          {legWindBands.map((b, i) => <rect key={'lwb' + i} x={lx(b[0])} y={L.wind[0]} width={lx(b[1]) - lx(b[0])} height={L.wind[1] - L.wind[0]} fill={LEG_WIND_COL[b[2]]} />)}
        </g>
        {vgrid([15, 18, 21, 24, 27].map((h) => lx(h)), L.wind[0], L.wind[1], 'lgvW')}
        {hgrid([5, 10, 15].map((v) => lyW(v)), LX0, LX1, 'lghW')}
        <path d={line(lhx, legWind, lyW)} fill="none" stroke="#000080" strokeWidth={2} />
        {LGH.map((h, i) => <line key={'lgu' + i} x1={lx(h - 0.3)} x2={lx(h + 0.7)} y1={lyW(legGust[i])} y2={lyW(legGust[i])} stroke="#ff0000" strokeWidth={1.5} />)}
        <rect x={136} y={315} width={4} height={4} fill="#e00000" />
      </g>
      {frame(LX0, LX1, L.wind, 'lfW')}
      {[20, 15, 10, 5, 0].map((v) => ltick(131, lyW(v), String(v), 'lwl' + v))}
      {[20, 15, 10, 5, 0].map((v) => ltick(253, lyW(v), String(Math.round(v * 3.6)), 'lwr' + v, '#000', 'start'))}

      <g clipPath="url(#cldir)">
        {vgrid([15, 18, 21, 24, 27].map((h) => lx(h)), L.dir[0], L.dir[1], 'lgvD')}
        {LH.map((h, i) => arrow(lx(h), 413, legDir[i], 17, '#1c1c96', 'lar' + i))}
      </g>
      {frame(LX0, LX1, L.dir, 'lfD')}

      <g clipPath="url(#clcloud)">
        <rect x={LX0} y={L.cloud[0]} width={LX1 - LX0} height={L.cloud[1] - L.cloud[0]} fill="#78bdea" />
        {vgrid([15, 18, 21, 24, 27].map((h) => lx(h)), L.cloud[0], L.cloud[1], 'lgvC')}
        {hgrid([0.5, 2, 7].map((v) => lyC(v)), LX0, LX1, 'lghC')}
        {legBase.map((d, i) => <circle key={'lcb' + i} cx={lx(d[0])} cy={lyC(d[1])} r={3.6} fill={BASE_COL[d[2]]} />)}
        {legTop.map((d, i) => <circle key={'lctp' + i} cx={lx(d[0])} cy={lyC(d[1])} r={3.6} fill="#a51a1a" />)}
        <path d={line(lhx, legVis, lyV)} fill="none" stroke="#ff9900" strokeWidth={2} />
      </g>
      {frame(LX0, LX1, L.cloud, 'lfC')}
      {[[15, '15.0'], [7, '7.0'], [2, '2.0'], [0.5, '0.5'], [0, '0.0']].map(([v, s]) => ltick(131, lyC(v as number) + (v === 0 ? -2.5 : 0), s as string, 'lcl' + s))}
      {[100, 20, 5, 1, 0].map((v) => ltick(253, lyV(v) + (v === 0 ? -2.5 : 0), String(v), 'lcr' + v, ORANGE, 'start'))}

      <g clipPath="url(#clcover)">
        <rect x={LX0} y={L.cover[0]} width={LX1 - LX0} height={L.cover[1] - L.cover[0]} fill="#78bdea" />
        <path d={areaDown(lhx, legCovHigh, lyCov, L.cover[1])} fill="#ffffff" />
        <path d={areaDown(lhx, legCovMid, lyCov, L.cover[1])} fill="#8a8a8a" />
        <path d={areaDown(lhx, legCovLow, lyCov, L.cover[1])} fill="#505050" />
        <path d={areaDown(lhx, legCovVeryLow, lyCov, L.cover[1])} fill="#2e2e2e" />
        <path d={line(lhx, legCovHigh, lyCov)} fill="none" stroke="#ffffff" strokeWidth={1.2} />
        {vgrid([15, 18, 21, 24, 27].map((h) => lx(h)), L.cover[0], L.cover[1], 'lgvV')}
        {hgrid([2, 4, 6].map((v) => lyCov(v)), LX0, LX1, 'lghV')}
        {legFogH.map((h, i) => <rect key={'lfg' + i} x={lx(h) - 1.6} y={lyFog(legFog[i])} width={3.2} height={lyFog(0) - lyFog(legFog[i])} fill="#ffb400" />)}
      </g>
      {frame(LX0, LX1, L.cover, 'lfV')}
      {[8, 6, 4, 2, 0].map((v) => ltick(131, lyCov(v) + (v === 8 ? 2 : 0), String(v), 'lvl' + v))}
      {[[1, '1'], [0.75, '0.75'], [0.5, '0.5'], [0.25, '0.25'], [0, '0']].map(([v, s]) => ltick(253, lyFog(v as number) + (v === 1 ? 2 : 0), s as string, 'lvr' + s, ORANGE, 'start'))}
      {[['18', 18], ['00', 24], ['06', 30]].map(([s, h]) => <text key={'lut' + s} x={lx(h as number) - 1} y={615} textAnchor="middle" fontSize={12}>{s}</text>)}

      {/* ===== legend annotations ===== */}
      <g>
        {t(5, 19, 'Czas lokalny')}
        {t(10, 30, '(CET/CEST)')}
        {pl([[68, 15], [135, 15], [156, 42]], '#000')}
        {t(6, 47, 'Temperatura gruntu', '#b01c1c')}
        {t(28, 57, 'max/min', '#b01c1c')}
        {pl([[105, 43], [119, 43], [150, 84]], '#b01c1c')}
        {t(5, 67, 'Temperatura:')}
        {t(13, 81, 'punkt środkowy', '#ff0000')}
        {pl([[91, 77], [114, 77]], '#ff0000')}
        {pl([[132, 77], [152, 98]], '#ff0000')}
        {t(28, 91, 'max/min', '#f8c4b4')}
        {t(10, 102, 'odczuwana', '#0000ff')}
        {pl([[68, 98], [114, 98]], '#0000ff')}
        {pl([[131, 98], [136, 98]], '#0000ff')}
        {t(28, 112, 'max/min', '#9cd8f4')}
        {t(6, 123, 'Temp. punktu rosy', '#6a55d0')}
        {pl([[99, 119], [136, 119], [141, 113]], '#6a55d0')}
        {t(6, 141, 'Opad powyżej skali', '#ff0000')}
        {pl([[103, 137], [143, 137], [146.5, 145]], '#ff0000')}
        {t(6, 155, 'Wilgotność względna', '#ee5a24')}
        {pl([[110, 151], [115, 151]], '#ee5a24')}
        {pl([[131, 151], [141, 161]], '#ee5a24')}
        {t(6, 169, 'Wystąpienie burzy')}
        {pl([[97, 165], [115, 165]], '#000')}
        {pl([[131, 165], [139, 172]], '#000')}
        {t(7, 183, 'Deszcz:', '#10a010')}
        {t(49, 183, 'max', '#10a010')}
        {pl([[72, 179], [139, 179]], '#10a010')}
        {t(49, 195, 'średni', '#10a010')}
        {pl([[81, 191], [134, 191], [150, 184]], '#10a010')}
        {t(7, 205, 'Śnieg:', '#2040d0')}
        {t(49, 205, 'max', '#2040d0')}
        {pl([[72, 201], [115, 201]], '#2040d0')}
        {pl([[131, 201], [161, 172]], '#2040d0')}
        {t(49, 216, 'średni', '#2040d0')}
        {pl([[81, 212], [128, 212], [157, 186]], '#2040d0')}
        {t(5, 229, 'Wystąpienie opadu', '#ff0000')}
        {t(5, 242, 'konwekcyjnego', '#ff0000')}
        {pl([[101, 225], [143, 225], [148, 219]], '#ff0000')}
        {t(5, 267, 'Ciśnienie')}
        {pl([[52, 263], [135, 263]], '#000')}
        {t(5, 281, 'zredukowane')}
        {t(5, 293, 'do poziomu morza')}
        {t(5, 322, 'Wiatr na 10m:')}
        {t(10, 338, 'poryw powyżej skali', '#ff0000')}
        {pl([[108, 334], [117, 334]], '#ff0000')}
        {pl([[131, 333], [138, 318]], '#ff0000')}
        {t(10, 352, 'max porywy wiatru', '#ff0000')}
        {pl([[103, 348], [128, 348], [143, 340]], '#ff0000')}
        {t(10, 373, 'prędkość wiatru', '#1a1a8c')}
        {t(10, 385, 'w środku obszaru', '#1a1a8c')}
        {pl([[89, 369], [137, 367]], '#1a1a8c')}
        {t(10, 414, 'kierunek wiatru', '#1a1a8c')}
        {pl([[86, 410], [137, 410]], '#1a1a8c')}
        {t(7, 433, 'Wierzchołek chmur', '#b02020')}
        {pl([[102, 429], [130, 429], [183, 449]], '#b02020')}
        {t(5, 448, 'Podstawa chmur*')}
        {t(5, 460, 'o pokryciu')}
        {t(12, 472, '> 7.9 okt.', '#000', 10.5)}
        {pl([[58, 468], [135, 468], [192, 455]], '#000')}
        {t(12, 483, '> 6.5 okt.', '#505050', 10.5)}
        {pl([[58, 480], [143, 481]], '#505050')}
        {t(12, 494, '> 4.5 okt.', '#a0a0a0', 10.5)}
        {pl([[58, 490.5], [130, 490.5], [137, 498]], '#a0a0a0')}
        {t(12, 504, '> 2.5 okt.', '#d8d8d8', 10.5)}
        {pl([[58, 500.5], [133, 500.5], [137, 506]], '#d8d8d8')}
        <rect x={11} y={505.5} width={46} height={11} fill="#88ccff" />
        {t(12, 514.5, '> 0.1 okt.', '#ffffff', 10.5)}
        {pl([[57, 511], [143, 511]], '#ffffff')}
        {t(5, 531, 'Widzialność', '#ff8000')}
        {pl([[66, 527], [124, 527], [172, 465]], '#ff8000')}
        {t(5, 548, 'Chmury:')}
        <rect x={10} y={551} width={42} height={12} fill="#99ccee" />
        {t(11, 561, 'wysokie', '#ffffff')}
        {pl([[53, 557], [185, 557]], '#99ccee', 2.5)}
        {pl([[53, 557], [185, 557]], '#ffffff', 1)}
        {t(10, 573, 'średnie', '#a8a8a8')}
        {pl([[48, 571], [192, 571]], '#a8a8a8')}
        {t(10, 586, 'niskie', '#404040')}
        {pl([[40, 582], [124, 582]], '#404040')}
        {t(10, 597, 'bardzo niskie')}
        {pl([[76, 593], [157, 593]], '#000')}
        {t(6, 609, 'Mgła', '#ffb000')}
        {pl([[31, 605], [217, 605], [218, 592]], '#ffb000')}
        {t(5, 626, 'Czas uniwersalny (UTC)')}
        {pl([[126, 622], [148, 622], [157, 614]], '#000')}
        <text x={5} y={651} fontSize={9.5} fontWeight="bold">* powyżej poziomu morza</text>
      </g>
    </svg>
  );
}
